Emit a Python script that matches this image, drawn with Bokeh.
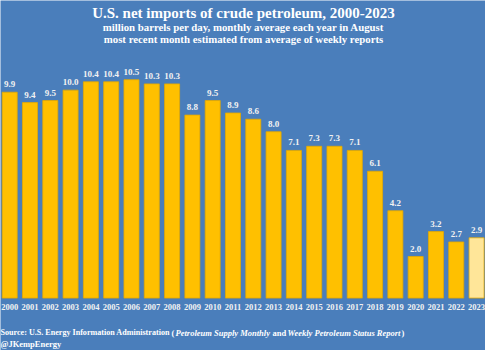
from bokeh.plotting import figure
from bokeh.models import ColumnDataSource, Range1d, Label
from bokeh.core.properties import value
from bokeh.embed import file_html
from bokeh.resources import INLINE

years = [str(y) for y in range(2000, 2024)]
imports = [9.9, 9.4, 9.5, 10.0, 10.4, 10.4, 10.5, 10.3, 10.3, 8.8, 9.5, 8.9,
           8.6, 8.0, 7.1, 7.3, 7.3, 7.1, 6.1, 4.2, 2.0, 3.2, 2.7, 2.9]
estimated = [False] * 23 + [True]

BG = "#4a7ebb"
FONT = "Liberation Serif"

idx = list(range(len(years)))
src = ColumnDataSource(dict(
    x=idx, year=years, val=imports,
    lab=[f"{v:.1f}" for v in imports],
    fill=["#FFE699" if e else "#FFC000" for e in estimated],
    yl=[-0.45] * len(years),
))

p = figure(width=485, height=350, output_backend="svg", toolbar_location=None,
           x_range=Range1d(-0.453, 23.44), y_range=Range1d(-2.52, 14.31),
           min_border=0, background_fill_color=BG, border_fill_color=BG,
           outline_line_color=None)
p.axis.visible = False
p.grid.visible = False

p.vbar(x="x", top="val", bottom=0, width=0.74, source=src,
       fill_color="fill", line_color="#E3A800", line_width=0.8)

p.text(x="x", y="val", text="lab", source=src, text_align="center",
       text_baseline="middle", y_offset=-8, text_color="#F2F2F2",
       text_font=value(FONT), text_font_style="bold", text_font_size="9px")

p.text(x="x", y="yl", text="year", source=src, text_align="center",
       text_baseline="middle", text_color="#F2F2F2",
       text_font=value(FONT), text_font_style="bold", text_font_size="8.5px")

def lab(text, x, y, size, style="bold", align="center"):
    p.add_layout(Label(x=x, y=y, x_units="screen", y_units="screen", text=text,
                       text_align=align, text_baseline="middle",
                       text_color="#FFFFFF", text_font=FONT,
                       text_font_style=style, text_font_size=size))

lab("U.S. net imports of crude petroleum, 2000-2023", 243, 338, "15px")
lab("million barrels per day, monthly average each year in August", 243, 324, "10.8px")
lab("most recent month estimated from average of weekly reports", 243, 312, "10.8px")

lab("Source: U.S. Energy Information Administration", 0, 18, "8.1px", align="left")
lab("(", 171, 18, "8.5px", align="left")
lab("Petroleum Supply Monthly", 175, 18, "8.5px", style="bold italic", align="left")
lab("and", 272, 18, "8.5px", align="left")
lab("Weekly Petroleum Status Report", 287, 18, "8.5px", style="bold italic", align="left")
lab(")", 401, 18, "8.5px", align="left")
lab("@JKempEnergy", 0, 7, "8.5px", align="left")

open("out.html", "w").write(file_html(p, INLINE))
